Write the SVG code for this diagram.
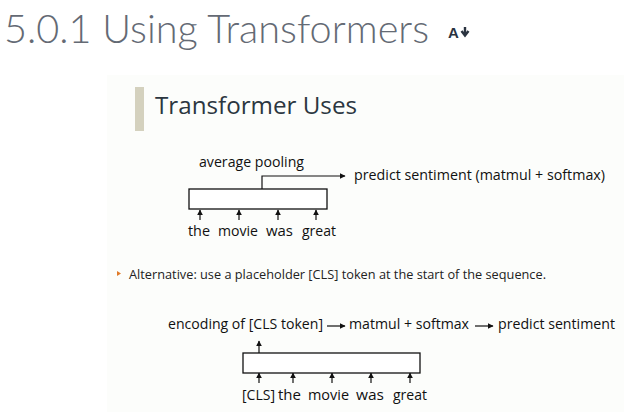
<svg xmlns="http://www.w3.org/2000/svg" width="624" height="412" viewBox="0 0 624 412">
<defs>
<style>
.t{font-family:"Open Sans","Liberation Sans",sans-serif;font-size:14.5px;fill:#111}
.ln{stroke:#111;stroke-width:1.2;fill:none}
.box{stroke:#111;stroke-width:1.3;fill:#fff}
</style>
<marker id="ah" viewBox="0 0 10 10" refX="9" refY="5" markerWidth="5" markerHeight="5" orient="auto-start-reverse">
<path d="M0,0 L10,5 L0,10 z" fill="#111"/>
</marker>
</defs>
<rect width="624" height="412" fill="#ffffff"/>
<text x="4" y="43" font-family="'Lato Light',Lato,'Liberation Sans',sans-serif" font-weight="300" font-size="39" fill="#646a74" textLength="425" lengthAdjust="spacingAndGlyphs">5.0.1 Using Transformers</text>
<g id="icon">
<text x="448" y="38" font-family="'Liberation Sans',sans-serif" font-weight="bold" font-size="15" fill="#2a3340">A</text>
<path d="M465,27 v7 M461.5,31 l3.5,4.5 l3.5,-4.5" stroke="#2a3340" stroke-width="2.4" fill="none"/>
</g>
<rect x="107" y="75" width="517" height="337" fill="#fcfdfb"/>
<rect x="135" y="87" width="9" height="44" fill="#d4d1be"/>
<text x="155" y="114" font-family="'Open Sans','Noto Sans',sans-serif" font-size="23" fill="#2b3640" textLength="202" lengthAdjust="spacingAndGlyphs">Transformer Uses</text>

<g id="connectors">
<path class="ln" d="M262,189 V176 H345" marker-end="url(#ah)"/>
<path class="ln" d="M200,220 V210" marker-end="url(#ah)"/>
<path class="ln" d="M239,220 V210" marker-end="url(#ah)"/>
<path class="ln" d="M278,220 V210" marker-end="url(#ah)"/>
<path class="ln" d="M316,220 V210" marker-end="url(#ah)"/>
<path class="ln" d="M259,353 V341" marker-end="url(#ah)"/>
<path class="ln" d="M327,326 H345" marker-end="url(#ah)"/>
<path class="ln" d="M475,326 H493" marker-end="url(#ah)"/>
<path class="ln" d="M259,383 V373" marker-end="url(#ah)"/>
<path class="ln" d="M293,383 V373" marker-end="url(#ah)"/>
<path class="ln" d="M332,383 V373" marker-end="url(#ah)"/>
<path class="ln" d="M371,383 V373" marker-end="url(#ah)"/>
<path class="ln" d="M410,383 V373" marker-end="url(#ah)"/>
</g>

<g id="box1"><rect class="box" x="189" y="189" width="138" height="20"/></g>
<g id="avgpool"><text class="t" x="199" y="167" textLength="105" lengthAdjust="spacingAndGlyphs">average pooling</text></g>
<g id="predict1"><text class="t" x="354" y="180" textLength="251" lengthAdjust="spacingAndGlyphs">predict sentiment (matmul + softmax)</text></g>
<g id="words1">
<text class="t" x="188" y="236" textLength="22" lengthAdjust="spacingAndGlyphs">the</text>
<text class="t" x="218" y="236" textLength="40" lengthAdjust="spacingAndGlyphs">movie</text>
<text class="t" x="266" y="236" textLength="27" lengthAdjust="spacingAndGlyphs">was</text>
<text class="t" x="302" y="236" textLength="34" lengthAdjust="spacingAndGlyphs">great</text>
</g>

<g id="bullet">
<path d="M117,271 L121,273.5 L117,276 z" fill="#e07b2a"/>
<text x="129" y="279" font-family="'Open Sans','Liberation Sans',sans-serif" font-size="12.5" fill="#222" textLength="417" lengthAdjust="spacingAndGlyphs">Alternative: use a placeholder [CLS] token at the start of the sequence.</text>
</g>

<g id="enc"><text class="t" x="168" y="329" textLength="155" lengthAdjust="spacingAndGlyphs">encoding of [CLS token]</text></g>
<g id="matmul"><text class="t" x="349" y="329" textLength="120" lengthAdjust="spacingAndGlyphs">matmul + softmax</text></g>
<g id="predict2"><text class="t" x="498" y="329" textLength="117" lengthAdjust="spacingAndGlyphs">predict sentiment</text></g>
<g id="box2"><rect class="box" x="243" y="353" width="177" height="20"/></g>
<g id="words2">
<text class="t" x="242" y="400" textLength="33" lengthAdjust="spacingAndGlyphs">[CLS]</text>
<text class="t" x="278" y="400" textLength="23" lengthAdjust="spacingAndGlyphs">the</text>
<text class="t" x="308" y="400" textLength="41" lengthAdjust="spacingAndGlyphs">movie</text>
<text class="t" x="356" y="400" textLength="28" lengthAdjust="spacingAndGlyphs">was</text>
<text class="t" x="393" y="400" textLength="34" lengthAdjust="spacingAndGlyphs">great</text>
</g>
</svg>
